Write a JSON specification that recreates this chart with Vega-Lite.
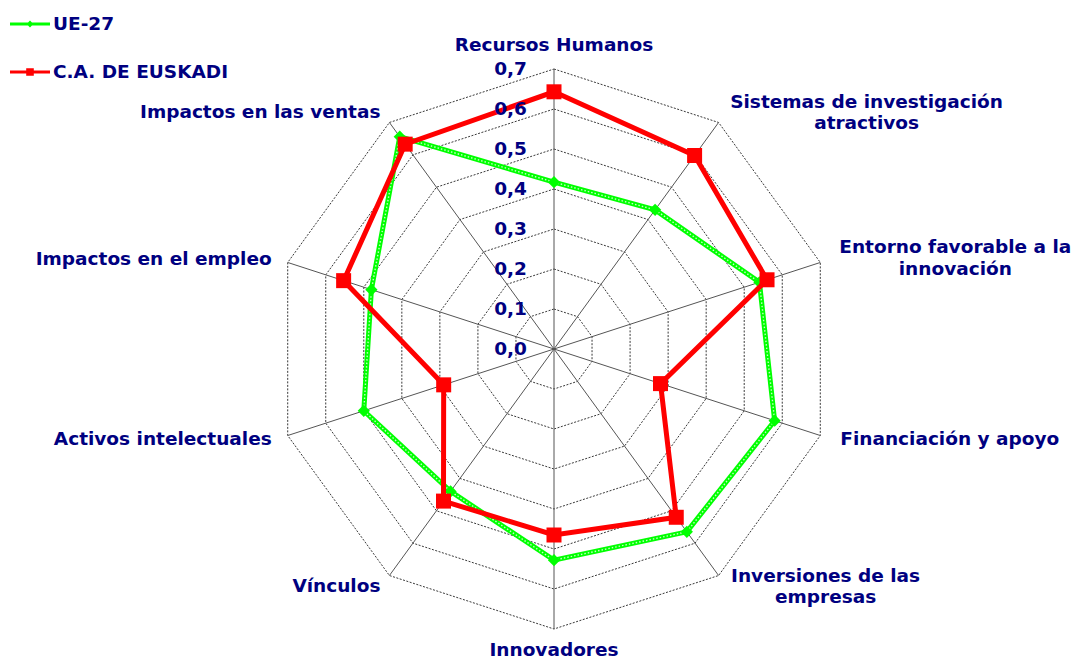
{
  "$schema": "https://vega.github.io/schema/vega-lite/v6.json",
  "width": 1076,
  "height": 661,
  "autosize": "none",
  "padding": 0,
  "background": "white",
  "config": {"view": {"stroke": null}},
  "datasets": {
    "axes": [
      {"k": 0, "eje": "Recursos Humanos"},
      {"k": 1, "eje": "Sistemas de investigación\natractivos"},
      {"k": 2, "eje": "Entorno favorable a la\ninnovación"},
      {"k": 3, "eje": "Financiación y apoyo"},
      {"k": 4, "eje": "Inversiones de las\nempresas"},
      {"k": 5, "eje": "Innovadores"},
      {"k": 6, "eje": "Vínculos"},
      {"k": 7, "eje": "Activos intelectuales"},
      {"k": 8, "eje": "Impactos en el empleo"},
      {"k": 9, "eje": "Impactos en las ventas"}
    ],
    "series": [
      {"k": 0, "serie": "UE-27", "valor": 0.417},
      {"k": 1, "serie": "UE-27", "valor": 0.43},
      {"k": 2, "serie": "UE-27", "valor": 0.54},
      {"k": 3, "serie": "UE-27", "valor": 0.58},
      {"k": 4, "serie": "UE-27", "valor": 0.565},
      {"k": 5, "serie": "UE-27", "valor": 0.528},
      {"k": 6, "serie": "UE-27", "valor": 0.44},
      {"k": 7, "serie": "UE-27", "valor": 0.5},
      {"k": 8, "serie": "UE-27", "valor": 0.48},
      {"k": 9, "serie": "UE-27", "valor": 0.656},
      {"k": 0, "serie": "C.A. DE EUSKADI", "valor": 0.643},
      {"k": 1, "serie": "C.A. DE EUSKADI", "valor": 0.598},
      {"k": 2, "serie": "C.A. DE EUSKADI", "valor": 0.56},
      {"k": 3, "serie": "C.A. DE EUSKADI", "valor": 0.28},
      {"k": 4, "serie": "C.A. DE EUSKADI", "valor": 0.52},
      {"k": 5, "serie": "C.A. DE EUSKADI", "valor": 0.465},
      {"k": 6, "serie": "C.A. DE EUSKADI", "valor": 0.47},
      {"k": 7, "serie": "C.A. DE EUSKADI", "valor": 0.29},
      {"k": 8, "serie": "C.A. DE EUSKADI", "valor": 0.553},
      {"k": 9, "serie": "C.A. DE EUSKADI", "valor": 0.633}
    ],
    "ticks": [
      {"v": 0.0, "label": "0,0"},
      {"v": 0.1, "label": "0,1"},
      {"v": 0.2, "label": "0,2"},
      {"v": 0.3, "label": "0,3"},
      {"v": 0.4, "label": "0,4"},
      {"v": 0.5, "label": "0,5"},
      {"v": 0.6, "label": "0,6"},
      {"v": 0.7, "label": "0,7"}
    ]
  },
  "encoding": {
    "x": {"field": "x", "type": "quantitative", "scale": {"domain": [-1.385, 1.305], "nice": false, "zero": false}, "axis": null},
    "y": {"field": "y", "type": "quantitative", "scale": {"domain": [-0.78, 0.8725], "nice": false, "zero": false}, "axis": null}
  },
  "layer": [
    {
      "data": {"name": "axes"},
      "transform": [
        {"calculate": "[0.1,0.2,0.3,0.4,0.5,0.6,0.7]", "as": "lv"},
        {"flatten": ["lv"]},
        {"calculate": "datum.lv*sin(datum.k*PI/5)", "as": "x"},
        {"calculate": "datum.lv*cos(datum.k*PI/5)", "as": "y"}
      ],
      "mark": {"type": "line", "interpolate": "linear-closed", "stroke": "#222222", "strokeWidth": 0.9, "strokeDash": [2, 1.5]},
      "encoding": {"detail": {"field": "lv", "type": "nominal"}, "order": {"field": "k", "type": "quantitative"}}
    },
    {
      "data": {"name": "axes"},
      "transform": [
        {"calculate": "0.7*sin(datum.k*PI/5)", "as": "x"},
        {"calculate": "0.7*cos(datum.k*PI/5)", "as": "y"}
      ],
      "mark": {"type": "rule", "stroke": "#555555", "strokeWidth": 1},
      "encoding": {"x2": {"datum": 0}, "y2": {"datum": 0}}
    },
    {
      "data": {"name": "series"},
      "transform": [
        {"filter": "datum.serie === 'UE-27'"},
        {"calculate": "datum.valor*sin(datum.k*PI/5)", "as": "x"},
        {"calculate": "datum.valor*cos(datum.k*PI/5)", "as": "y"}
      ],
      "layer": [
        {
          "mark": {"type": "line", "interpolate": "linear-closed", "stroke": "#00FF00", "strokeWidth": 5},
          "encoding": {"order": {"field": "k", "type": "quantitative"}}
        },
        {
          "mark": {"type": "line", "interpolate": "linear-closed", "stroke": "#E8FFE8", "strokeWidth": 1.4, "strokeDash": [1.5, 2], "opacity": 0.85},
          "encoding": {"order": {"field": "k", "type": "quantitative"}}
        },
        {
          "mark": {"type": "point", "shape": "diamond", "filled": true, "size": 150, "opacity": 1},
          "encoding": {
            "color": {
              "field": "serie", "type": "nominal",
              "scale": {"domain": ["UE-27", "C.A. DE EUSKADI"], "range": ["#00FF00", "#FF0000"]},
              "legend": {
                "orient": "none", "legendX": 10, "legendY": 4, "title": null, "padding": 0,
                "symbolSize": 1600, "symbolStrokeWidth": 0, "symbolOpacity": 1, "rowPadding": 18, "labelOffset": 3, "labelLimit": 400,
                "labelFont": "DejaVu Sans", "labelFontSize": 18.5, "labelFontWeight": "bold", "labelColor": "#000080",
                "encode": {"symbols": {"update": {"shape": {"signal": "datum.value === 'UE-27' ? 'M-1,-0.07H1V0.07H-1Z M0,-0.17L0.17,0L0,0.17L-0.17,0Z' : 'M-1,-0.08H1V0.08H-1Z M-0.19,-0.19H0.19V0.19H-0.19Z'"}}}}
              }
            }
          }
        }
      ]
    },
    {
      "data": {"name": "series"},
      "transform": [
        {"filter": "datum.serie === 'C.A. DE EUSKADI'"},
        {"calculate": "datum.valor*sin(datum.k*PI/5)", "as": "x"},
        {"calculate": "datum.valor*cos(datum.k*PI/5)", "as": "y"}
      ],
      "layer": [
        {
          "mark": {"type": "line", "interpolate": "linear-closed", "stroke": "#FF0000", "strokeWidth": 5},
          "encoding": {"order": {"field": "k", "type": "quantitative"}}
        },
        {
          "mark": {"type": "point", "shape": "square", "filled": true, "size": 225, "opacity": 1},
          "encoding": {"color": {"field": "serie", "type": "nominal", "legend": null}}
        }
      ]
    },
    {
      "data": {"name": "ticks"},
      "transform": [
        {"calculate": "0", "as": "x"},
        {"calculate": "datum.v", "as": "y"}
      ],
      "mark": {"type": "text", "align": "right", "baseline": "middle", "dx": -27, "font": "DejaVu Sans", "fontSize": 18.5, "fontWeight": "bold", "fill": "#000080"},
      "encoding": {"text": {"field": "label", "type": "nominal"}}
    },
    {
      "data": {"name": "axes"},
      "transform": [
        {"calculate": "0.7*sin(datum.k*PI/5)", "as": "x"},
        {"calculate": "0.7*cos(datum.k*PI/5)", "as": "y"}
      ],
      "encoding": {"text": {"field": "eje", "type": "nominal"}},
      "layer": [
        {"transform": [{"filter": "datum.k === 0"}], "mark": {"type": "text", "align": "center", "baseline": "middle", "dy": -24, "font": "DejaVu Sans", "fontSize": 18.5, "fontWeight": "bold", "fill": "#000080", "lineBreak": "\n", "lineHeight": 21.5}},
        {"transform": [{"filter": "datum.k === 1"}], "mark": {"type": "text", "align": "center", "baseline": "middle", "dx": 148, "dy": -20.5, "font": "DejaVu Sans", "fontSize": 18.5, "fontWeight": "bold", "fill": "#000080", "lineBreak": "\n", "lineHeight": 21.5}},
        {"transform": [{"filter": "datum.k === 2"}], "mark": {"type": "text", "align": "center", "baseline": "middle", "dx": 135, "dy": -15, "font": "DejaVu Sans", "fontSize": 18.5, "fontWeight": "bold", "fill": "#000080", "lineBreak": "\n", "lineHeight": 21.5}},
        {"transform": [{"filter": "datum.k === 3"}], "mark": {"type": "text", "align": "left", "baseline": "middle", "dx": 20, "dy": 3, "font": "DejaVu Sans", "fontSize": 18.5, "fontWeight": "bold", "fill": "#000080", "lineBreak": "\n", "lineHeight": 21.5}},
        {"transform": [{"filter": "datum.k === 4"}], "mark": {"type": "text", "align": "center", "baseline": "middle", "dx": 107, "dy": 0, "font": "DejaVu Sans", "fontSize": 18.5, "fontWeight": "bold", "fill": "#000080", "lineBreak": "\n", "lineHeight": 21.5}},
        {"transform": [{"filter": "datum.k === 5"}], "mark": {"type": "text", "align": "center", "baseline": "middle", "dy": 21, "font": "DejaVu Sans", "fontSize": 18.5, "fontWeight": "bold", "fill": "#000080", "lineBreak": "\n", "lineHeight": 21.5}},
        {"transform": [{"filter": "datum.k === 6"}], "mark": {"type": "text", "align": "right", "baseline": "middle", "dx": -9, "dy": 10, "font": "DejaVu Sans", "fontSize": 18.5, "fontWeight": "bold", "fill": "#000080", "lineBreak": "\n", "lineHeight": 21.5}},
        {"transform": [{"filter": "datum.k === 7"}], "mark": {"type": "text", "align": "right", "baseline": "middle", "dx": -16, "dy": 3, "font": "DejaVu Sans", "fontSize": 18.5, "fontWeight": "bold", "fill": "#000080", "lineBreak": "\n", "lineHeight": 21.5}},
        {"transform": [{"filter": "datum.k === 8"}], "mark": {"type": "text", "align": "right", "baseline": "middle", "dx": -16, "dy": -3, "font": "DejaVu Sans", "fontSize": 18.5, "fontWeight": "bold", "fill": "#000080", "lineBreak": "\n", "lineHeight": 21.5}},
        {"transform": [{"filter": "datum.k === 9"}], "mark": {"type": "text", "align": "right", "baseline": "middle", "dx": -9, "dy": -10, "font": "DejaVu Sans", "fontSize": 18.5, "fontWeight": "bold", "fill": "#000080", "lineBreak": "\n", "lineHeight": 21.5}}
      ]
    }
  ]
}
